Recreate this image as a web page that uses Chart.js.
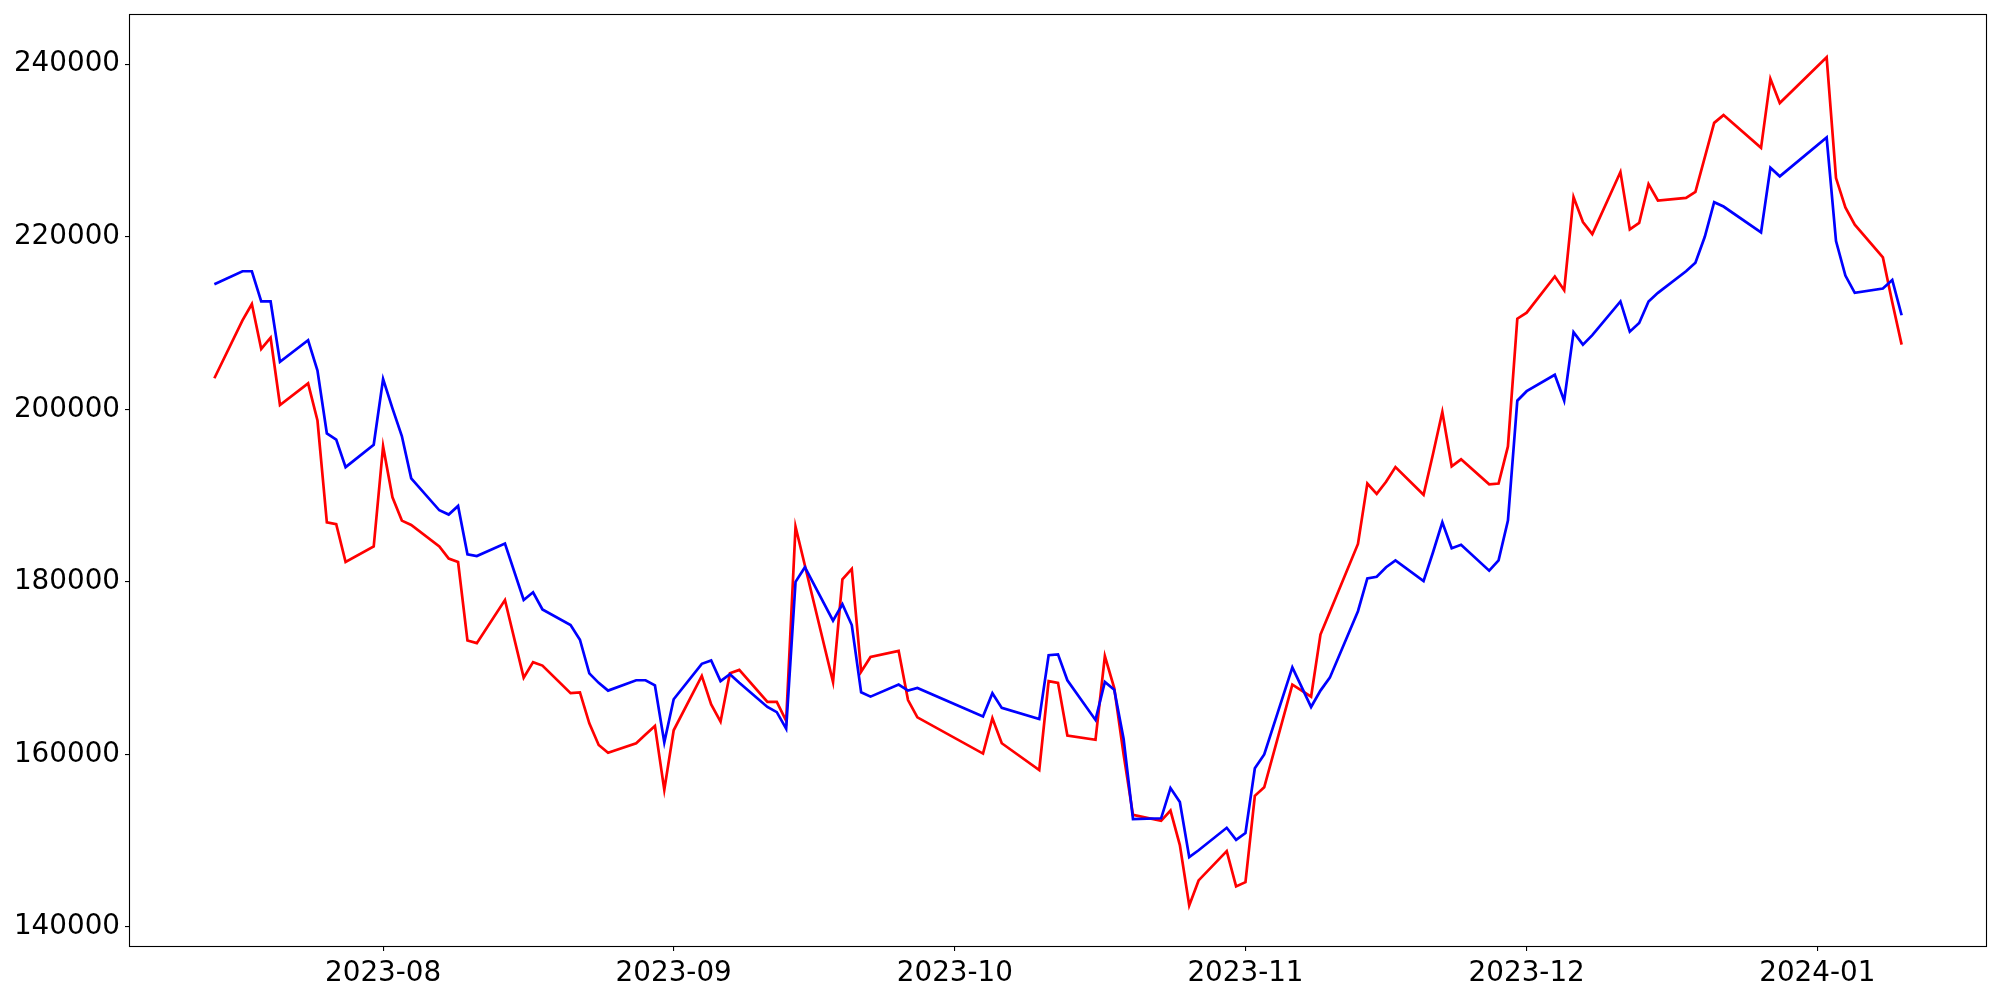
<!DOCTYPE html>
<html><head><meta charset="utf-8">
<script src="https://cdn.jsdelivr.net/npm/chart.js@4.4.0/dist/chart.umd.min.js"></script>
<style>html,body{margin:0;padding:0;background:#fff}#wrap{width:2000px;height:1000px}</style>
</head><body><div id="wrap"><canvas id="c" width="2000" height="1000"></canvas></div>
<script>
const dates = [
'2023-07-14','2023-07-17','2023-07-18','2023-07-19','2023-07-20','2023-07-21','2023-07-24','2023-07-25','2023-07-26','2023-07-27','2023-07-28','2023-07-31',
'2023-08-01','2023-08-02','2023-08-03','2023-08-04','2023-08-07','2023-08-08','2023-08-09','2023-08-10','2023-08-11','2023-08-14','2023-08-16','2023-08-17','2023-08-18','2023-08-21','2023-08-22','2023-08-23','2023-08-24','2023-08-25','2023-08-28','2023-08-29','2023-08-30','2023-08-31',
'2023-09-01','2023-09-04','2023-09-05','2023-09-06','2023-09-07','2023-09-08','2023-09-11','2023-09-12','2023-09-13','2023-09-14','2023-09-15','2023-09-18','2023-09-19','2023-09-20','2023-09-21','2023-09-22','2023-09-25','2023-09-26','2023-09-27',
'2023-10-04','2023-10-05','2023-10-06','2023-10-10','2023-10-11','2023-10-12','2023-10-13','2023-10-16','2023-10-17','2023-10-18','2023-10-19','2023-10-20','2023-10-23','2023-10-24','2023-10-25','2023-10-26','2023-10-27','2023-10-30','2023-10-31',
'2023-11-01','2023-11-02','2023-11-03','2023-11-06','2023-11-07','2023-11-08','2023-11-09','2023-11-10','2023-11-13','2023-11-14','2023-11-15','2023-11-16','2023-11-17','2023-11-20','2023-11-21','2023-11-22','2023-11-23','2023-11-24','2023-11-27','2023-11-28','2023-11-29','2023-11-30',
'2023-12-01','2023-12-04','2023-12-05','2023-12-06','2023-12-07','2023-12-08','2023-12-11','2023-12-12','2023-12-13','2023-12-14','2023-12-15','2023-12-18','2023-12-19','2023-12-20','2023-12-21','2023-12-22','2023-12-26','2023-12-27','2023-12-28',
'2024-01-02','2024-01-03','2024-01-04','2024-01-05','2024-01-08','2024-01-09','2024-01-10'
];
const redValues = [
203600,210300,212200,207000,208300,200500,203000,198700,186900,186700,182300,184100,
195700,189800,187100,186600,184100,182700,182300,173200,172900,177900,168900,170700,170300,167100,167200,163600,161100,160200,161300,162300,163300,155900,
162800,169100,165800,163800,169400,169800,166100,166100,163900,186400,181900,168400,180300,181500,169600,171300,172000,166300,164300,
160100,164200,161300,158200,168500,168300,162200,161700,171400,167700,160000,153000,152300,153500,149500,142500,145400,148800,144700,
145200,155200,156200,168100,167400,166700,173900,176500,184400,191400,190200,191600,193300,190100,194800,199700,193400,194200,191300,191400,195700,210500,
211200,215400,213800,224600,221700,220300,227500,220850,221600,226100,224200,224500,225200,229200,233200,234100,230300,238300,235500,
240800,226800,223400,221400,217600,212400,207500
];
const blueValues = [
214500,216000,216000,212500,212500,205500,208000,204500,197200,196500,193300,195900,
203500,200100,196900,192000,188300,187800,188800,183200,183000,184450,177900,178800,176800,175000,173300,169400,168300,167400,168600,168600,168000,161400,
166400,170500,170900,168500,169300,168300,165500,164900,163000,180000,181700,175500,177400,175000,167200,166700,168100,167400,167700,
164400,167100,165400,164100,171500,171600,168600,164000,168400,167500,161800,152500,152600,156100,154500,148100,148900,151500,150100,
150900,158400,160000,170100,167800,165500,167400,168900,176600,180400,180600,181700,182500,180100,183400,186900,183900,184300,181300,182500,187100,201000,
202100,204000,201000,208950,207500,208600,212500,209000,210000,212500,213500,216000,217000,220000,224000,223500,220500,228000,227000,
231500,219500,215500,213500,214000,215000,210900
];
const yTickValues = [140000,160000,180000,200000,220000,240000];
const xTickLabels = ['2023-08','2023-09','2023-10','2023-11','2023-12','2024-01'];

const dayNum = s => Date.UTC(+s.slice(0,4), +s.slice(5,7)-1, +s.slice(8,10)) / 86400000;
const redPts = dates.map((d,i) => ({x: dayNum(d), y: redValues[i]}));
const bluePts = dates.map((d,i) => ({x: dayNum(d), y: blueValues[i]}));

const frame = {
  id: 'frame',
  afterDraw(chart) {
    const a = chart.chartArea, ctx = chart.ctx;
    ctx.save();
    ctx.strokeStyle = '#000';
    ctx.lineWidth = 1.1;
    ctx.strokeRect(Math.round(a.left)-0.5, Math.round(a.top)-0.5, Math.round(a.right-a.left)+1, Math.round(a.bottom-a.top)+1);
    ctx.restore();
  }
};

const tickFont = {family: 'DejaVu Sans', size: 27.8};

new Chart(document.getElementById('c'), {
  type: 'line',
  data: {
    datasets: [
      {data: redPts, borderColor: '#ff0000', borderWidth: 2.7, pointRadius: 0, tension: 0, fill: false, order: 1},
      {data: bluePts, borderColor: '#0000ff', borderWidth: 2.7, pointRadius: 0, tension: 0, fill: false, order: 0}
    ]
  },
  options: {
    responsive: false,
    devicePixelRatio: 1,
    animation: false,
    layout: {padding: {top: 15, right: 14, left: 0, bottom: 0}},
    plugins: {legend: {display: false}, tooltip: {enabled: false}},
    scales: {
      x: {
        type: 'linear',
        min: dayNum('2023-07-05'),
        max: dayNum('2024-01-19'),
        afterBuildTicks: s => { s.ticks = xTickLabels.map(l => ({value: dayNum(l + '-01')})); },
        afterFit: s => { s.height = 54; s.paddingLeft = 0; s.paddingRight = 0; },
        grid: {display: true, drawOnChartArea: false, drawTicks: true, tickLength: 5, color: '#000', lineWidth: 1.1},
        border: {display: false},
        ticks: {
          autoSkip: false, maxRotation: 0, padding: 6, color: '#000', font: tickFont,
          callback: (v, i) => xTickLabels[i]
        }
      },
      y: {
        type: 'linear',
        min: 137800,
        max: 245700,
        afterBuildTicks: s => { s.ticks = yTickValues.map(v => ({value: v})); },
        afterFit: s => { s.width = 130; s.paddingTop = 0; s.paddingBottom = 0; },
        grid: {display: true, drawOnChartArea: false, drawTicks: true, tickLength: 5, color: '#000', lineWidth: 1.1},
        border: {display: false},
        ticks: {padding: 5, color: '#000', font: tickFont, callback: v => String(v)}
      }
    }
  },
  plugins: [frame]
});
</script>
</body></html>
